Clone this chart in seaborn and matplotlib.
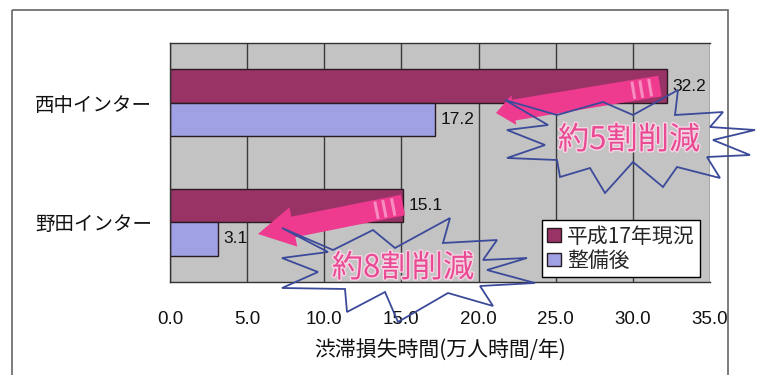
import numpy as np
import pandas as pd
import matplotlib
matplotlib.use('Agg')
import matplotlib.pyplot as plt
import seaborn as sns
from matplotlib.patches import Polygon, Rectangle, FancyArrow
import matplotlib.patheffects as pe

# ---- data ----
categories = ['西中インター', '野田インター']
series_names = ['平成17年現況', '整備後']
current_values = [32.2, 15.1]
after_values = [17.2, 3.1]
x_ticks = [0, 5, 10, 15, 20, 25, 30, 35]
x_label = '渋滞損失時間(万人時間/年)'
burst_labels = ['約5割削減', '約8割削減']

df = pd.DataFrame({
    'IC': categories * 2,
    'series': [series_names[0]] * len(categories) + [series_names[1]] * len(categories),
    'value': current_values + after_values,
})

sns.set_theme(style='white')
plt.rcParams['font.family'] = ['Noto Sans CJK JP', 'DejaVu Sans']

W, H = 771, 375
fig = plt.figure(figsize=(W / 100, H / 100), dpi=100)
fig.patch.set_facecolor('white')

ax = fig.add_axes([170 / W, 1 - 282 / H, 540 / W, 239 / H])
palette = {series_names[0]: '#993366', series_names[1]: '#a0a0e4'}
sns.barplot(data=df, y='IC', x='value', hue='series', hue_order=series_names,
            order=categories, orient='h', palette=palette, width=0.56,
            edgecolor='#2a1a22', linewidth=1.0, saturation=1, ax=ax)

ax.set_facecolor('#c3c3c3')
ax.set_xlim(0, 35)
ax.set_ylim(1.5, -0.5)
ax.set_axisbelow(True)
ax.xaxis.grid(True, color='#3a3a3a', lw=1.0)
ax.yaxis.grid(False)
ax.set_xticks(x_ticks)
ax.set_xticklabels([f'{v:.1f}' for v in x_ticks], fontsize=13.5,
                   family=['Liberation Sans', 'DejaVu Sans'])
ax.tick_params(axis='x', length=0, pad=21, colors='#111111')
ax.tick_params(axis='y', which='major', length=0, pad=13, labelsize=14, colors='#111111')
ax.set_yticks([-0.5, 0.5, 1.5], minor=True)
ax.tick_params(axis='y', which='minor', length=5, width=1, direction='in', color='#222222')
ax.set_xlabel(x_label, fontsize=15, labelpad=8, color='#111111')
ax.set_ylabel('')
for s in ['left', 'top', 'bottom']:
    ax.spines[s].set_color('#333333')
    ax.spines[s].set_linewidth(1.0)
ax.spines['right'].set_visible(False)

for cont in ax.containers:
    ax.bar_label(cont, fmt='%.1f', padding=4, fontsize=12.5,
                 family=['Liberation Sans', 'DejaVu Sans'], color='#111111')

handles, labels = ax.get_legend_handles_labels()
leg = ax.legend(handles, labels, loc='lower right', bbox_to_anchor=(0.981, 0.021),
                frameon=True, fancybox=False, edgecolor='black', facecolor='white',
                framealpha=1, fontsize=15, handlelength=0.65, handleheight=0.65,
                handletextpad=0.3, borderpad=0.25, labelspacing=0.1, borderaxespad=0)
leg.get_frame().set_linewidth(1.0)

# ---- overlay annotations (pixel coordinates) ----
ov = fig.add_axes([0, 0, 1, 1], zorder=5)
ov.set_xlim(0, W)
ov.set_ylim(H, 0)
ov.axis('off')
ov.patch.set_alpha(0)

ov.add_patch(Rectangle((12, 10), 716, 380, fill=False, edgecolor='#666666', lw=1.2, clip_on=False))

pink = '#ee3a8f'
stripe = '#f68cbf'

def arrow(tail, tip, width, hw, hl, stripes):
    tail = np.array(tail, float)
    tip = np.array(tip, float)
    d = tip - tail
    ov.add_patch(FancyArrow(tail[0], tail[1], d[0], d[1], width=width, head_width=hw,
                            head_length=hl, length_includes_head=True, color=pink, lw=0))
    u = d / np.linalg.norm(d)
    n = np.array([-u[1], u[0]])
    for s in stripes:
        c = tail + u * s
        p1 = c + n * width * 0.42
        p2 = c - n * width * 0.42
        ov.plot([p1[0], p2[0]], [p1[1], p2[1]], color=stripe, lw=2.2, solid_capstyle='butt')

arrow((660, 86), (496, 113), 21, 30, 18, [10, 19, 27])
arrow((403, 205), (258, 234), 21, 40, 36, [10, 19, 27])

burst1 = [(505, 100), (557, 115), (603, 102), (633, 115), (678, 90), (675, 115),
          (723, 112), (710, 127), (755, 130), (713, 140), (750, 155), (707, 157),
          (720, 178), (677, 167), (663, 187), (633, 162), (605, 193), (590, 168),
          (560, 177), (557, 160), (507, 158), (545, 145), (507, 130), (548, 125)]
burst2 = [(282, 228), (333, 250), (373, 230), (395, 248), (450, 218), (443, 243),
          (497, 240), (483, 260), (527, 258), (487, 270), (535, 283), (480, 286),
          (493, 306), (448, 293), (398, 322), (385, 292), (347, 312), (345, 289),
          (282, 288), (318, 272), (282, 258), (328, 252)]
for b in (burst1, burst2):
    ov.add_patch(Polygon(b, closed=True, fill=False, edgecolor='#3c4a9a', lw=1.3))

for txt, (x, y) in zip(burst_labels, [(629, 140), (403, 268)]):
    ov.text(x, y, txt, fontsize=22.5, color='#ea4a93', ha='center', va='center',
            path_effects=[pe.withStroke(linewidth=2, foreground='#f3d6e4')])

fig.savefig('out.png', dpi=100, facecolor='white')
